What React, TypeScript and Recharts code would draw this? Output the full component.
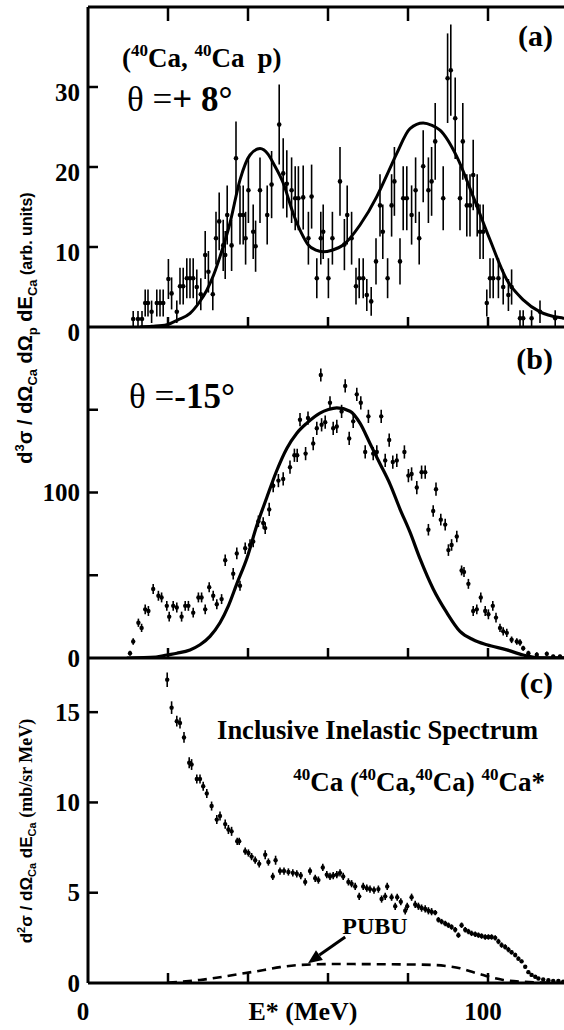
import React from 'react';
import { ComposedChart, Scatter, Line, XAxis, YAxis, ErrorBar, Customized, ReferenceLine } from 'recharts';

const SERIF = '"Liberation Serif", "Times New Roman", serif';
const SANS = '"Liberation Sans", Arial, sans-serif';

// ---------- shared x axis ----------
const xDomain = [0, 120];
const xTicks = [0, 20, 40, 60, 80, 100, 120];
const xTickLines = [20, 40, 60, 80, 100];
const xTickLabels = [0, 100];

// ---------- panel (a) ----------
const aTicks = [0, 10, 20, 30, 40];
const aTickLabels = [0, 10, 20, 30];
const aTickLines = [10, 20, 30];
const aE = [11.3,12.5,13.5,14.3,15.0,15.9,17.2,18.0,18.8,20.1,20.9,22.2,23.0,23.8,24.7,25.5,26.3,27.2,28.2,29.3,30.1,31.2,32.0,32.8,33.8,34.3,34.8,35.9,37.0,38.0,38.8,39.4,40.1,41.3,41.9,43.0,44.8,45.9,47.8,48.8,49.7,50.9,51.8,52.6,53.8,55.1,55.9,57.2,58.2,58.8,60.1,61.1,63.0,64.1,64.8,65.9,67.0,67.8,68.8,69.7,70.8,72.0,73.0,73.7,74.9,75.9,76.6,78.0,78.8,79.7,80.9,81.9,82.8,83.8,85.1,85.9,86.8,88.8,89.9,90.7,91.8,93.0,93.7,94.7,95.5,96.3,97.3,98.0,98.8,99.7,100.5,101.3,102.6,103.8,105.1,105.9,108.0,108.8,110.9,113.0,116.8];
const aV = [1.0,1.0,1.0,3.0,3.0,1.9,3.0,3.0,3.0,6.0,4.2,1.9,5.1,5.1,6.1,6.1,6.1,5.0,4.1,9.0,6.9,4.1,11.1,13.2,10.2,9.0,14.0,10.2,21.1,14.0,14.0,11.1,17.1,11.9,10.1,17.1,14.0,17.8,25.3,19.2,17.9,17.1,16.1,16.1,16.2,11.1,16.3,6.1,11.1,11.9,6.1,11.1,18.2,10.3,14.0,11.1,5.1,6.1,6.1,4.0,3.2,8.2,15.2,11.9,6.1,15.2,18.2,8.2,16.1,16.1,14.0,17.1,11.1,20.1,17.1,18.2,23.2,16.1,31.1,32.1,26.1,16.1,23.2,15.2,15.2,19.0,15.2,11.9,11.9,3.0,6.1,6.1,6.1,5.0,4.0,5.0,1.1,1.1,1.1,1.9,1.1];
const aErr = [1.0,1.0,1.0,1.7,1.7,1.4,1.7,1.7,1.7,2.5,2.0,1.4,2.3,2.3,2.5,2.5,2.5,2.2,2.0,3.0,2.6,2.0,3.3,3.6,3.2,3.0,3.7,3.2,4.6,3.7,3.7,3.3,4.1,3.4,3.2,4.1,3.7,4.2,5.0,4.4,4.2,4.1,4.0,4.0,4.0,3.3,4.0,2.5,3.3,3.4,2.5,3.3,4.3,3.2,3.7,3.3,2.3,2.5,2.5,2.0,1.8,2.9,3.9,3.4,2.5,3.9,4.3,2.9,4.0,4.0,3.7,4.1,3.3,4.5,4.1,4.3,4.8,4.0,5.6,5.7,5.1,4.0,4.8,3.9,3.9,4.4,3.9,3.4,3.4,1.7,2.5,2.5,2.5,2.2,2.0,2.2,1.0,1.0,1.0,1.4,1.0];
const aCurveE = [13,16,19.7,22.5,25.5,27.7,29.7,31.4,33,35.5,38,40.5,43,45,46.3,48.8,51.3,53.4,55,57,58.8,61,63.8,68,72.2,75,77.2,80.5,83.8,86,88,92.2,96.3,100.5,104.7,108.8,113,118.8,120];
const aCurveV = [0,0.1,0.3,0.9,1.7,3.0,4.6,6.5,8.8,13,18.4,21.5,22.3,21.6,20.5,18,14.2,11.7,10.3,9.6,9.4,9.6,10.25,12.75,16.3,19.3,21.7,24.8,25.5,25.2,24.6,21.3,16.3,10.9,5.9,3.4,1.9,1.1,1.0];

// ---------- panel (b) ----------
const bTicks = [0, 50, 100, 150, 200];
const bTickLabels = [0, 100];
const bTickLines = [50, 100, 150];
const bE = [10.5,11.3,12.6,13.4,14.3,15.1,16.3,17.6,18.4,19.7,20.3,21.3,22.2,23.4,24.3,25.1,26.3,27.6,28.4,29.3,30.3,31.3,32.2,33.4,34.3,36.3,37.2,38.0,39.3,40.5,41.3,42.6,43.8,44.3,45.3,46.3,47.6,48.8,50.5,51.6,52.3,53.0,54.4,55.0,56.3,57.2,58.2,58.4,59.3,60.5,61.3,62.2,63.4,64.3,65.3,66.3,67.2,68.2,69.3,70.1,71.3,72.2,73.3,74.3,75.3,76.2,77.2,79.1,80.1,80.9,82.2,83.4,84.3,85.1,86.3,87.0,88.2,89.3,90.1,90.9,92.2,93.4,94.0,95.1,96.3,97.2,98.2,99.3,100.1,101.2,102.0,103.0,103.8,104.7,105.9,107.2,108.0,108.8,110.1,112.2,114.7,116.3,118.0];
const bV = [2.9,10,21.3,18.2,29.4,28.4,41.7,37.6,36.6,31.5,25,31.5,30.5,25,31.5,31.5,27.4,36.6,36.6,29.4,42.8,37.6,32.5,35.6,59.1,50.9,63.2,43.7,66.3,68.3,70.4,82.6,81.6,78.5,89.8,104.1,107.2,108.2,115.3,122.5,122.5,144,123.5,145,129.6,138.8,171,140.9,142.5,154.2,138.8,139.9,149,164.4,132.7,143,159.3,154.2,124.5,146,123.5,124.5,146,119.4,131.7,118.4,119.4,124.5,110.2,111.2,103,112.3,112.3,77.5,88.8,102,83.6,80.6,65.2,68.3,73.4,52.9,52,44.8,28.4,29.4,36.6,28.4,26.4,31.5,24.4,18.2,16.1,15.2,11,10,9.4,5.9,2.9,2,2.5,1,1];
const bErr = [1.5,2,2.5,2.5,3,3,3,3,3,3,3,3,3,3,3,3,3,3,3,3,3,3,3,3,3.5,3.5,3.5,3,3.5,3.5,3.5,3.5,3.5,3.5,4,4,4,4,4,4,4,4,4,4,4,4,4,4,4,4,4,4,4,4,4,4,4,4,4,4,4,4,4,4,4,4,4,4,4,4,4,4,4,3.5,3.5,4,3.5,3.5,3.5,3.5,3.5,3,3,3,3,3,3,3,3,3,3,2.5,2.5,2.5,2,2,2,1.5,1.5,1.5,1.5,1,1];
const bCurveE = [9.7,17,19.7,22.2,25.5,28,30.5,33,35.1,37.2,39.7,42.2,44.7,47.2,49.7,52.2,54.7,58,60.1,62.2,65.5,68,70.5,73,75.5,78,80.5,83,86.3,89.7,93,96.3,99.7,104.7,108.8,112,120];
const bCurveV = [0,0.5,1.8,2.9,4.9,8,13.1,21.3,31.5,44.8,60.1,80,97,113.3,126.6,135.8,141.9,148,150.1,151.1,149.1,141.9,129.6,117.4,105.1,90,76,60,41.7,27.4,16.1,11,8,4.9,1.8,0.3,0];

// ---------- panel (c) ----------
const cTicks = [0, 5, 10, 15, 18];
const cTickLabels = [0, 5, 10, 15];
const cTickLines = [5, 10, 15];
const cE = [19.8,20.9,22.2,23.0,24.0,25.3,25.9,27.2,28.0,28.8,29.7,30.9,32.2,33.0,34.3,35.1,35.9,37.3,37.8,39.3,40.1,40.9,41.8,42.8,44.3,45.1,46.2,46.9,48.0,49.0,50.1,51.2,52.2,53.2,54.3,55.5,56.8,57.6,58.7,59.7,60.5,61.3,62.2,63.0,63.8,65.1,65.9,66.8,67.8,68.8,69.7,70.5,71.5,72.6,73.4,74.3,74.8,75.9,76.8,77.3,78.2,79.3,79.8,80.9,81.8,82.6,83.4,84.3,85.1,85.9,86.8,87.6,88.4,89.3,90.1,90.9,91.8,92.6,93.4,94.3,95.1,95.9,96.8,97.6,98.4,99.3,100.1,100.9,101.8,102.6,103.4,104.3,105.1,105.9,106.8,107.6,108.4,109.3,110.1,110.9,111.8,112.6,113.8,115.1,116.3,117.6,118.8];
const cV = [16.8,15.25,14.5,14.4,13.6,12.2,12.1,11.3,11.3,10.9,10.5,9.8,9.05,9.25,8.8,8.5,8.4,7.85,7.85,7.3,7.2,7.0,6.8,6.6,7.1,6.7,5.9,6.8,6.2,6.2,6.15,6.1,6.05,5.95,5.6,6.2,5.8,5.7,6.4,6.0,5.9,5.95,6.0,6.1,5.9,5.6,5.5,5.35,4.8,5.35,5.25,5.2,5.15,5.2,4.65,4.8,5.35,4.75,4.25,4.75,4.5,4.0,4.25,4.75,4.35,4.25,4.15,4.1,4.0,3.95,3.9,3.5,3.4,3.3,3.2,3.1,2.95,2.65,3.2,2.95,2.85,2.75,2.7,2.65,2.6,2.55,2.55,2.55,2.5,2.3,2.1,2.0,1.85,1.7,1.55,1.35,1.2,0.9,0.6,0.45,0.35,0.25,0.2,0.15,0.12,0.12,0.07];
const cErr = [0.4,0.35,0.3,0.3,0.3,0.3,0.3,0.25,0.25,0.25,0.25,0.25,0.25,0.25,0.25,0.25,0.25,0.2,0.2,0.2,0.2,0.2,0.2,0.2,0.25,0.2,0.2,0.25,0.2,0.2,0.2,0.2,0.2,0.2,0.2,0.2,0.2,0.2,0.2,0.2,0.2,0.2,0.2,0.2,0.2,0.2,0.2,0.2,0.2,0.2,0.2,0.2,0.2,0.2,0.2,0.2,0.2,0.2,0.2,0.2,0.2,0.2,0.2,0.2,0.2,0.2,0.2,0.2,0.2,0.2,0.15,0.15,0.15,0.15,0.15,0.15,0.15,0.15,0.15,0.15,0.15,0.15,0.15,0.15,0.15,0.15,0.15,0.15,0.15,0.15,0.15,0.15,0.15,0.12,0.12,0.12,0.1,0.1,0.1,0.1,0.08,0.08,0.08,0.08,0.08,0.08,0.08];
const pubuE = [20,28,38,44,48,53,61.3,73.8,86.3,90,93,96,98.8,101,103.8,108.8,115,120];
const pubuV = [0.02,0.17,0.5,0.72,0.88,1.0,1.05,1.04,1.0,0.93,0.82,0.62,0.44,0.3,0.17,0.07,0.02,0.01];

// ---------- tables ----------
const pts = (xs: number[], ys: number[], es: number[]) => xs.map((x, i) => ({ x, y: ys[i], err: es[i] }));
const line = (xs: number[], ys: number[]) => xs.map((x, i) => ({ x, y: ys[i] }));
const aPts = pts(aE, aV, aErr);
const bPts = pts(bE, bV, bErr);
const cPts = pts(cE, cV, cErr);
const aCurve = line(aCurveE, aCurveV);
const bCurve = line(bCurveE, bCurveV);
const pubu = line(pubuE, pubuV);

// ---------- tick renderers ----------
const TS = 2.5;
function yTickLeft(labels: number[], lines: number[], dy: number) {
  return (p: any) => {
    const { x, y, payload } = p;
    const v = payload.value;
    return (
      <g>
        {lines.includes(v) ? <line x1={x} y1={y} x2={x + 10} y2={y} stroke="#000" strokeWidth={TS} /> : null}
        {labels.includes(v) ? (
          <text x={x - 8} y={y + dy + 8.5} textAnchor="end" fontFamily={SERIF} fontWeight="bold" fontSize={25} fill="#000">{v}</text>
        ) : null}
      </g>
    );
  };
}
function yTickRight(lines: number[]) {
  return (p: any) => {
    const { x, y, payload } = p;
    return <g>{lines.includes(payload.value) ? <line x1={x} y1={y} x2={x - 12} y2={y} stroke="#000" strokeWidth={TS} /> : null}</g>;
  };
}
function xTickBottom(labels: number[]) {
  return (p: any) => {
    const { x, y, payload } = p;
    const v = payload.value;
    return (
      <g>
        {xTickLines.includes(v) ? <line x1={x} y1={y} x2={x} y2={y - 10} stroke="#000" strokeWidth={TS} /> : null}
        {labels.includes(v) ? (
          <text x={x - 5} y={y + 37} textAnchor="middle" fontFamily={SERIF} fontWeight="bold" fontSize={25} fill="#000">{v}</text>
        ) : null}
      </g>
    );
  };
}
const xTickTop = (p: any) => {
  const { x, y, payload } = p;
  return <g>{xTickLines.includes(payload.value) ? <line x1={x} y1={y} x2={x} y2={y + 14} stroke="#000" strokeWidth={TS} /> : null}</g>;
};

const dot = (p: any) => <circle cx={p.cx} cy={p.cy} r={2.3} fill="#000" />;
const dotSmall = (p: any) => <circle cx={p.cx} cy={p.cy} r={2.2} fill="#000" />;

const arrowShape = (p: any) => {
  const { x1, y1, x2, y2 } = p;
  const ang = Math.atan2(y2 - y1, x2 - x1);
  const L = 14, W = 6;
  const bx = x2 - L * Math.cos(ang), by = y2 - L * Math.sin(ang);
  const px = -Math.sin(ang) * W, py = Math.cos(ang) * W;
  return (
    <g>
      <line x1={x1} y1={y1} x2={bx} y2={by} stroke="#000" strokeWidth={3} />
      <polygon points={`${x2},${y2} ${bx + px},${by + py} ${bx - px},${by - py}`} fill="#000" />
    </g>
  );
};

const axisLine = { stroke: '#000', strokeWidth: 3 };

// ---------- annotations ----------
const AnnotA = () => (
  <g fontFamily={SERIF} fontWeight="bold" fill="#000">
    <text x={553} y={46} textAnchor="end" fontSize={30}>(a)</text>
    <text x={122} y={67} fontSize={27}>
      (<tspan fontSize={17} dy={-11}>40</tspan><tspan dy={11}>Ca, </tspan>
      <tspan fontSize={17} dy={-11}>40</tspan><tspan dy={11}>Ca</tspan><tspan dx={13}>p)</tspan>
    </text>
    <text x={127} y={111} fontSize={35}>
      <tspan fontWeight="normal">θ =</tspan><tspan>+ 8°</tspan>
    </text>
  </g>
);

const AnnotB = () => (
  <g fill="#000">
    <text x={553} y={369} textAnchor="end" fontSize={30} fontFamily={SERIF} fontWeight="bold">(b)</text>
    <text x={129} y={408} fontSize={35} fontFamily={SERIF} fontWeight="bold">
      <tspan fontWeight="normal">θ =</tspan><tspan>-15°</tspan>
    </text>
    <text transform="translate(32,328) rotate(-90)" textAnchor="middle" fontFamily={SANS} fontWeight="bold" fontSize={20}>
      d<tspan fontSize={13} dy={-8}>3</tspan><tspan dy={8}>σ / dΩ</tspan>
      <tspan fontSize={13} dy={5}>Ca</tspan><tspan dy={-5}> dΩ</tspan>
      <tspan fontSize={13} dy={5}>p</tspan><tspan dy={-5}> dE</tspan>
      <tspan fontSize={13} dy={5}>Ca</tspan><tspan dy={-5} fontSize={16}> (arb. units)</tspan>
    </text>
  </g>
);

const AnnotC = () => (
  <g fill="#000">
    <text x={553} y={693} textAnchor="end" fontSize={30} fontFamily={SERIF} fontWeight="bold">(c)</text>
    <text x={538} y={739} textAnchor="end" fontSize={26.5} fontFamily={SERIF} fontWeight="bold">Inclusive Inelastic Spectrum</text>
    <text x={545} y={791} textAnchor="end" fontSize={27} fontFamily={SERIF} fontWeight="bold">
      <tspan fontSize={17} dy={-11}>40</tspan><tspan dy={11}>Ca (</tspan>
      <tspan fontSize={17} dy={-11}>40</tspan><tspan dy={11}>Ca,</tspan>
      <tspan fontSize={17} dy={-11}>40</tspan><tspan dy={11}>Ca) </tspan>
      <tspan fontSize={17} dy={-11}>40</tspan><tspan dy={11}>Ca*</tspan>
    </text>
    <text x={375} y={934} textAnchor="middle" fontSize={24} fontFamily={SERIF} fontWeight="bold">PUBU</text>
    <text x={303} y={1020} textAnchor="middle" fontSize={26} fontFamily={SERIF} fontWeight="bold">E* (MeV)</text>
    <text transform="translate(32,831) rotate(-90)" textAnchor="middle" fontWeight="bold">
      <tspan fontFamily={SANS} fontSize={17}>d</tspan>
      <tspan fontFamily={SANS} fontSize={11} dy={-7}>2</tspan>
      <tspan fontFamily={SANS} fontSize={17} dy={7}>σ / dΩ</tspan>
      <tspan fontFamily={SANS} fontSize={11} dy={4}>Ca</tspan>
      <tspan fontFamily={SANS} fontSize={17} dy={-4}> dE</tspan>
      <tspan fontFamily={SANS} fontSize={11} dy={4}>Ca</tspan>
      <tspan fontFamily={SERIF} fontSize={18} dy={-4}> (mb/sr MeV)</tspan>
    </text>
  </g>
);

const W = 580;
const abs: React.CSSProperties = { position: 'absolute', left: 0, top: 0 };

export default function App() {
  return (
    <div style={{ position: 'absolute', left: 0, top: 0, width: 564, height: 1030, overflow: 'hidden', background: '#fff' }}>
      {/* panel (a) */}
      <div style={abs}>
        <ComposedChart width={W} height={345} margin={{ top: 5, right: 12, bottom: 8, left: 0 }}>
          <XAxis xAxisId={0} dataKey="x" type="number" domain={xDomain} ticks={xTicks} interval={0} allowDataOverflow
            height={10} tickSize={0} tickMargin={0} tickLine={false} axisLine={axisLine} tick={xTickBottom([])} />
          <XAxis xAxisId="top" orientation="top" dataKey="x" type="number" domain={xDomain} ticks={xTicks} interval={0} allowDataOverflow
            height={2} tickSize={0} tickMargin={0} tickLine={false} axisLine={axisLine} tick={xTickTop} />
          <YAxis yAxisId={0} type="number" domain={[0, 40]} ticks={aTicks} interval={0} allowDataOverflow width={88}
            tickSize={0} tickMargin={0} tickLine={false} axisLine={axisLine} tick={yTickLeft(aTickLabels, aTickLines, 5)} />
          <YAxis yAxisId="r" orientation="right" type="number" domain={[0, 40]} ticks={aTicks} interval={0} allowDataOverflow width={0}
            tickSize={0} tickMargin={0} tickLine={false} axisLine={axisLine} tick={yTickRight(aTickLines)} />
          <Scatter data={aPts} dataKey="y" shape={dot} isAnimationActive={false}>
            <ErrorBar dataKey="err" direction="y" width={0} stroke="#000" strokeWidth={1.6} />
          </Scatter>
          <Line data={aCurve} dataKey="y" type="monotone" dot={false} stroke="#000" strokeWidth={3} isAnimationActive={false} />
          <Customized component={AnnotA} />
        </ComposedChart>
      </div>
      {/* panel (b) */}
      <div style={abs}>
        <ComposedChart width={W} height={678} margin={{ top: 327, right: 12, bottom: 10, left: 0 }}>
          <XAxis xAxisId={0} dataKey="x" type="number" domain={xDomain} ticks={xTicks} interval={0} allowDataOverflow
            height={10} tickSize={0} tickMargin={0} tickLine={false} axisLine={axisLine} tick={xTickBottom([])} />
          <YAxis yAxisId={0} type="number" domain={[0, 200]} ticks={bTicks} interval={0} allowDataOverflow width={88}
            tickSize={0} tickMargin={0} tickLine={false} axisLine={axisLine} tick={yTickLeft(bTickLabels, bTickLines, 0)} />
          <YAxis yAxisId="r" orientation="right" type="number" domain={[0, 200]} ticks={bTicks} interval={0} allowDataOverflow width={0}
            tickSize={0} tickMargin={0} tickLine={false} axisLine={axisLine} tick={yTickRight(bTickLines)} />
          <Scatter data={bPts} dataKey="y" shape={dotSmall} isAnimationActive={false}>
            <ErrorBar dataKey="err" direction="y" width={0} stroke="#000" strokeWidth={1.6} />
          </Scatter>
          <Line data={bCurve} dataKey="y" type="monotone" dot={false} stroke="#000" strokeWidth={3.2} isAnimationActive={false} />
          <Customized component={AnnotB} />
        </ComposedChart>
      </div>
      {/* panel (c) */}
      <div style={abs}>
        <ComposedChart width={W} height={1030} margin={{ top: 658, right: 12, bottom: 7, left: 0 }}>
          <XAxis xAxisId={0} dataKey="x" type="number" domain={xDomain} ticks={xTicks} interval={0} allowDataOverflow
            height={40} tickSize={0} tickMargin={0} tickLine={false} axisLine={axisLine} tick={xTickBottom(xTickLabels)} />
          <YAxis yAxisId={0} type="number" domain={[0, 18]} ticks={cTicks} interval={0} allowDataOverflow width={88}
            tickSize={0} tickMargin={0} tickLine={false} axisLine={axisLine} tick={yTickLeft(cTickLabels, cTickLines, 0)} />
          <YAxis yAxisId="r" orientation="right" type="number" domain={[0, 18]} ticks={cTicks} interval={0} allowDataOverflow width={0}
            tickSize={0} tickMargin={0} tickLine={false} axisLine={axisLine} tick={yTickRight(cTickLines)} />
          <Scatter data={cPts} dataKey="y" shape={dotSmall} isAnimationActive={false}>
            <ErrorBar dataKey="err" direction="y" width={0} stroke="#000" strokeWidth={1.6} />
          </Scatter>
          <Line data={pubu} dataKey="y" type="monotone" dot={false} stroke="#000" strokeWidth={2.6} strokeDasharray="9 6" isAnimationActive={false} />
          <ReferenceLine segment={[{ x: 64.3, y: 2.55 }, { x: 55, y: 1.1 }]} shape={arrowShape} ifOverflow="visible" />
          <Customized component={AnnotC} />
        </ComposedChart>
      </div>
    </div>
  );
}
